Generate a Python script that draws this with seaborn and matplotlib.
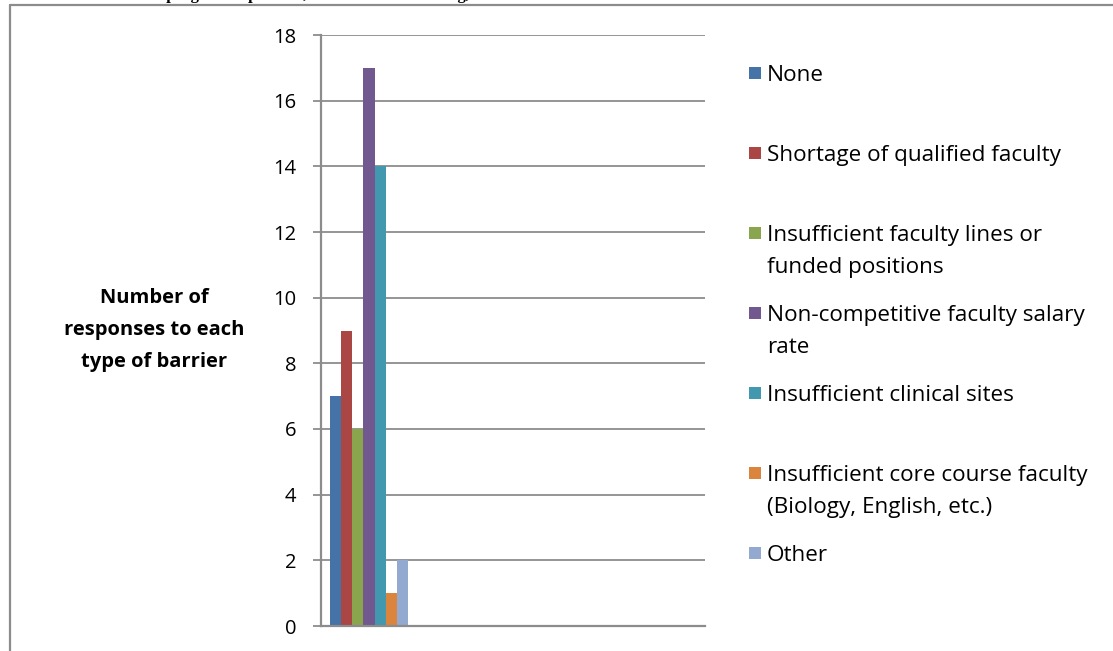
import numpy as np
import pandas as pd
import seaborn as sns
import matplotlib.pyplot as plt
from matplotlib.lines import Line2D
from matplotlib.patches import Rectangle

# Survey results: number of responses per barrier type
barriers = [
    "None",
    "Shortage of qualified faculty",
    "Insufficient faculty lines or\nfunded positions",
    "Non-competitive faculty salary\nrate",
    "Insufficient clinical sites",
    "Insufficient core course faculty\n(Biology, English, etc.)",
    "Other",
]
responses = [7, 9, 6, 17, 14, 1, 2]
colors = ["#4572A7", "#AA4643", "#89A54E", "#71588F", "#4198AF", "#DB843D", "#93A9CF"]
y_ticks = [0, 2, 4, 6, 8, 10, 12, 14, 16, 18]
y_label = "Number of\nresponses to each\ntype of barrier"
title = "Table 8. Barriers to program expansion, AD schools of nursing, Total N=40"

sns.set_theme(style="white")
plt.rcParams["font.family"] = ["Open Sans", "DejaVu Sans"]
FS_TICK = 14.5
FS_LABEL = 14.5
FS_LEGEND = 16.2

df = pd.DataFrame({"group": ["Total"] * len(barriers),
                   "barrier": barriers,
                   "count": responses})

W, H = 1113, 651
fig = plt.figure(figsize=(W / 100, H / 100), dpi=100)
fig.patch.set_facecolor("white")

x0, x1, y0, y1 = 321, 705, 35, 626
ax = fig.add_axes([x0 / W, 1 - y1 / H, (x1 - x0) / W, (y1 - y0) / H])

sns.barplot(data=df, x="group", y="count", hue="barrier", hue_order=barriers,
            palette=colors, saturation=1, width=0.82, linewidth=0,
            legend=False, ax=ax)

grid_c = "#8C8C8C"
ax.set_xlim(-0.5, 3.5)
ax.set_ylim(0, 18)
ax.set_yticks(y_ticks)
ax.set_xticks([])
ax.set_xlabel("")
ax.set_ylabel("")
ax.yaxis.grid(True, color=grid_c, linewidth=1.3)
ax.set_axisbelow(True)
for s in ["top", "right"]:
    ax.spines[s].set_visible(False)
for s in ["left", "bottom"]:
    ax.spines[s].set_color(grid_c)
    ax.spines[s].set_linewidth(1.6)
ax.tick_params(axis="y", length=6, width=1.3, color=grid_c, pad=12,
               labelsize=FS_TICK, labelcolor="black", left=True)

# Axis title, bold, three centred lines
for i, line in enumerate(y_label.split("\n")):
    fig.text(154 / W, 1 - (298 + 32 * i) / H, line, ha="center", va="center",
             fontsize=FS_LABEL, fontweight="bold", color="black")

# Legend on the right, one entry every 80 px, continuation lines 32 px below
for i, (lab, c) in enumerate(zip(barriers, colors)):
    yc = 73 + 80 * i
    fig.patches.append(Rectangle((749 / W, 1 - (yc + 6) / H), 12 / W, 12 / H,
                                 transform=fig.transFigure, facecolor=c,
                                 edgecolor="none"))
    for j, line in enumerate(lab.split("\n")):
        fig.text(767 / W, 1 - (yc + 32 * j) / H, line, ha="left",
                 va="center_baseline", fontsize=FS_LEGEND, color="black")

# Frame around the chart area
fig.lines.append(Line2D([10 / W, 10 / W], [0, 1 - 5 / H], transform=fig.transFigure,
                        color="#8C8C8C", linewidth=1.6))
fig.lines.append(Line2D([10 / W, 1], [1 - 5 / H, 1 - 5 / H], transform=fig.transFigure,
                        color="#8C8C8C", linewidth=1.6))

# Caption above the frame, mostly beyond the top edge
fig.text(25 / W, 1 + 1.0 / H, title, ha="left", va="baseline", fontsize=12,
         fontweight="bold", family="Liberation Serif", color="black")

fig.savefig("out.png", dpi=100)
